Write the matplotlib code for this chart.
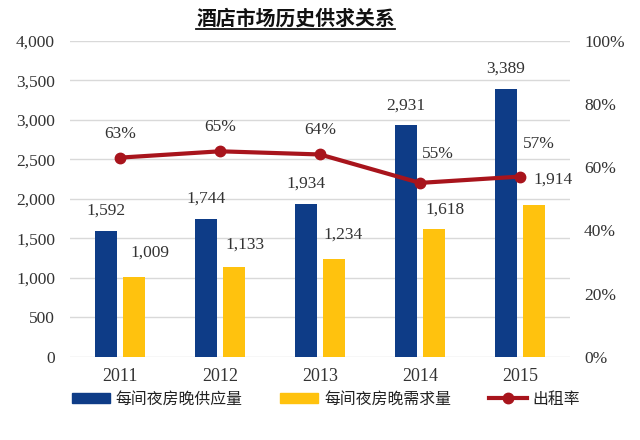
import matplotlib
matplotlib.use("Agg")
import matplotlib.pyplot as plt
from matplotlib.lines import Line2D
from matplotlib.patches import Patch
import numpy as np

years = ["2011", "2012", "2013", "2014", "2015"]
supply = [1592, 1744, 1934, 2931, 3389]
demand = [1009, 1133, 1234, 1618, 1914]
occupancy = [0.63, 0.65, 0.64, 0.55, 0.57]
left_ticks = [0, 500, 1000, 1500, 2000, 2500, 3000, 3500, 4000]
right_ticks = [0, 0.2, 0.4, 0.6, 0.8, 1.0]

title = "酒店市场历史供求关系"
series_names = ["每间夜房晚供应量", "每间夜房晚需求量", "出租率"]

# label offsets in pixels (dx, dy)
demand_off = [(16, 24), (11, 23), (9, 25), (10.5, 19), (18.5, 26)]
occ_off = [(0, 24), (0.5, 24.5), (0.3, 24.3), (18, 29), (19, 33)]

BLUE = "#0E3C87"
YELLOW = "#FFC20E"
RED = "#A8141C"
GRID = "#D9D9D9"
TXT = "#333333"
SERIF = "Liberation Serif"
CJK = ["Noto Sans CJK SC", "DejaVu Sans"]

PX = 0.72
fig = plt.figure(figsize=(6.4, 4.4), dpi=100)
W, H = 640, 440
ax = fig.add_axes([70 / W, 1 - 356.7 / H, 500 / W, (356.7 - 40.7) / H])
ax2 = ax.twinx()

x = np.arange(len(years))
bw = 0.225
off = 0.142
ax.bar(x - off, supply, bw, color=BLUE, zorder=2)
ax.bar(x + off, demand, bw, color=YELLOW, zorder=2)
ax.set_xlim(-0.5, len(years) - 0.5)
ax.set_ylim(0, 4000)
ax.set_yticks(left_ticks)
ax.set_yticklabels([f"{v:,}" for v in left_ticks])
ax.yaxis.grid(True, color=GRID, lw=1, zorder=0)
ax.set_axisbelow(True)
ax.set_xticks(x)
ax.set_xticklabels(years)
for s in ax.spines.values():
    s.set_visible(False)
for s in ax2.spines.values():
    s.set_visible(False)
ax.tick_params(axis="y", length=0, pad=15 * PX, labelsize=12.5, labelcolor=TXT)
ax.tick_params(axis="x", length=0, pad=11 * PX, labelsize=13, labelcolor=TXT)
for lab in ax.get_yticklabels() + ax.get_xticklabels():
    lab.set_fontfamily(SERIF)

ax2.plot(x, occupancy, color=RED, lw=3, marker="o", ms=7.5, zorder=5)
ax2.set_ylim(0, 1)
ax2.set_yticks(right_ticks)
ax2.set_yticklabels([f"{int(round(v*100))}%" for v in right_ticks])
ax2.tick_params(axis="y", length=0, pad=14 * PX, labelsize=12.5, labelcolor=TXT)
for lab in ax2.get_yticklabels():
    lab.set_fontfamily(SERIF)

for i, v in enumerate(supply):
    ax.annotate(f"{v:,}", (x[i] - off, v), xytext=(0, 20 * PX), textcoords="offset points",
                ha="center", va="center", fontsize=12.5, family=SERIF, color=TXT)
for i, v in enumerate(demand):
    dx, dy = demand_off[i]
    ax.annotate(f"{v:,}", (x[i] + off, v), xytext=(dx * PX, dy * PX), textcoords="offset points",
                ha="center", va="center", fontsize=12.5, family=SERIF, color=TXT)
for i, v in enumerate(occupancy):
    dx, dy = occ_off[i]
    ax2.annotate(f"{int(round(v*100))}%", (x[i], v), xytext=(dx * PX, dy * PX), textcoords="offset points",
                 ha="center", va="center", fontsize=12.5, family=SERIF, color=TXT, zorder=6)

# title with underline
t = fig.text(295.8 / W, 1 - 18.5 / H, title, ha="center", va="center", fontsize=14.3,
             fontweight="bold", family=CJK, color="#111111")
fig.canvas.draw()
bb = t.get_window_extent()
fig.add_artist(Line2D([bb.x0 / W, bb.x1 / W], [1 - 29 / H, 1 - 29 / H], color="#111111", lw=1.3))

handles = [Patch(color=BLUE), Patch(color=YELLOW),
           Line2D([0], [0], color=RED, lw=3, marker="o", ms=7.5)]
leg = fig.legend(handles, series_names, loc="center", bbox_to_anchor=(326 / W, 1 - 399 / H),
                 ncol=3, frameon=False, prop={"family": CJK, "size": 11.4},
                 handlelength=2.4, handleheight=0.55, handletextpad=0.35, columnspacing=2.4,
                 borderaxespad=0, borderpad=0)
for txt in leg.get_texts():
    txt.set_color("#222222")

fig.savefig("out.png", dpi=100)
